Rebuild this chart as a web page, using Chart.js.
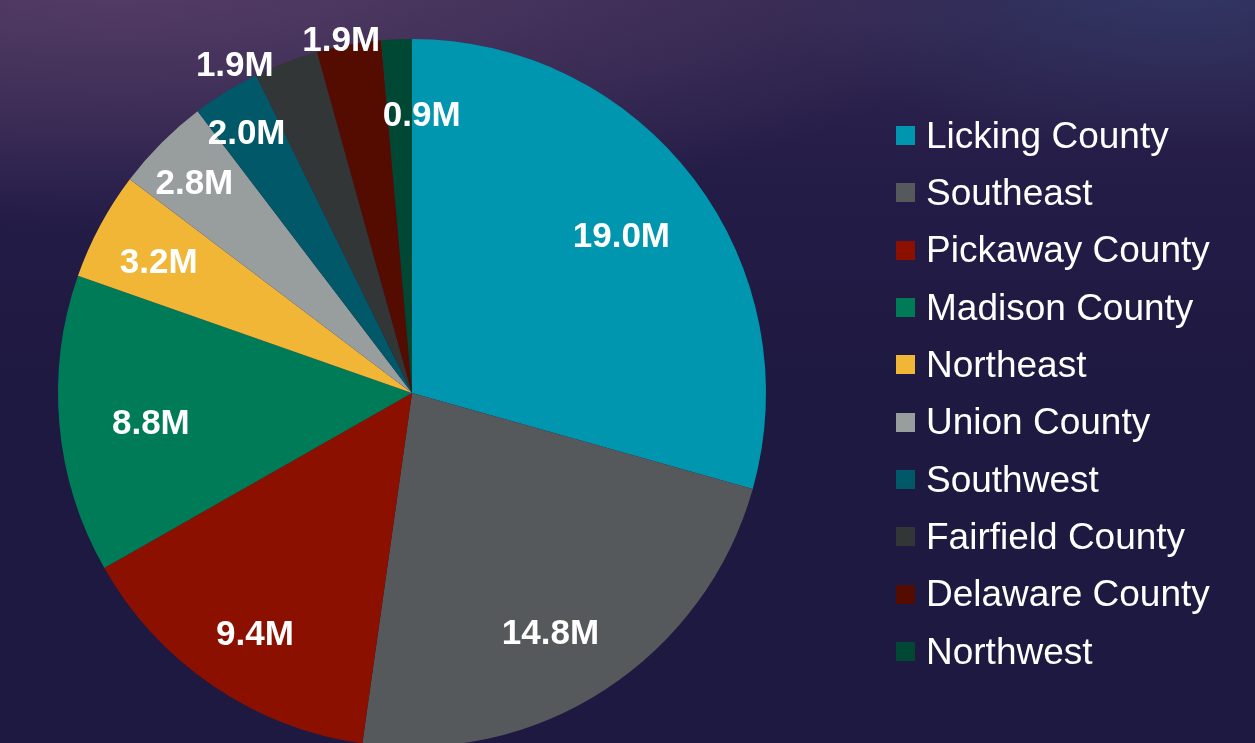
<!DOCTYPE html>
<html>
<head>
<meta charset="utf-8">
<title>Pie</title>
<script src="https://cdn.jsdelivr.net/npm/chart.js@4.4.1/dist/chart.umd.min.js"></script>
<style>
html, body { margin: 0; padding: 0; width: 1255px; height: 743px; overflow: hidden; }
body {
    position: relative;
    font-family: "Liberation Sans", Arial, sans-serif;
    background:
        radial-gradient(ellipse 900px 260px at 120px -30px, rgba(88, 63, 104, 0.95), rgba(88, 63, 104, 0) 100%),
        radial-gradient(ellipse 420px 170px at 1180px -20px, rgba(50, 56, 102, 0.9), rgba(50, 56, 102, 0) 100%),
        linear-gradient(180deg, #30264f 0px, #231c47 190px, #1e1940 420px, #1e1940 743px);
}
#wrap { position: absolute; left: 0; top: 0; width: 1255px; height: 790px; }
#legend { position: absolute; left: 896px; top: 107px; margin: 0; padding: 0; list-style: none; }
#legend li { height: 57.33px; display: flex; align-items: center; color: #fff; font-size: 37px; white-space: nowrap; }
#legend .box { width: 19px; height: 19px; margin-right: 11px; flex: none; }
</style>
</head>
<body>
<div id="wrap"><canvas id="pieChart" width="1255" height="790"></canvas></div>
<ul id="legend"></ul>
<script>
// 데이터
const regions = ["Licking County", "Southeast", "Pickaway County", "Madison County", "Northeast",
    "Union County", "Southwest", "Fairfield County", "Delaware County", "Northwest"];
const amounts = [19.0, 14.8, 9.4, 8.8, 3.2, 2.8, 2.0, 1.9, 1.9, 0.9]; // 단위: M
const sliceColors = ["#0096B0", "#55595B", "#8C1000", "#007B57", "#F2B637",
    "#989D9E", "#005868", "#323637", "#550C00", "#004834"];

// 라벨 위치 (반지름 비율, 각도 보정)
const labelPlacement = [
    [0.742, 0], [0.78, 3], [0.81, -1], [0.742, -1], [0.807, -0.7],
    [0.858, -0.7], [0.874, -0.6], [1.057, -7.4], [1.021, -1], [0.791, 4.5]
];

// 조각 위 값 라벨 그리기
const valueLabels = {
    id: 'valueLabels',
    afterDatasetsDraw(chart) {
        const ctx = chart.ctx;
        const meta = chart.getDatasetMeta(0);
        const fontSize = 35;
        ctx.save();
        ctx.font = `bold ${fontSize}px "Liberation Sans", Arial, sans-serif`;
        ctx.fillStyle = '#ffffff';
        ctx.textAlign = 'center';
        ctx.textBaseline = 'alphabetic';
        meta.data.forEach((arc, i) => {
            const p = arc.getProps(['x', 'y', 'startAngle', 'endAngle', 'outerRadius'], true);
            const [frac, shift] = labelPlacement[i];
            const mid = (p.startAngle + p.endAngle) / 2 + shift * Math.PI / 180;
            const r = p.outerRadius * frac;
            const px = p.x + Math.cos(mid) * r;
            const py = p.y + Math.sin(mid) * r;
            ctx.fillText(amounts[i].toFixed(1) + 'M', px, py + fontSize * 0.358);
        });
        ctx.restore();
    }
};

const chart = new Chart(document.getElementById('pieChart').getContext('2d'), {
    type: 'pie',
    data: {
        labels: regions,
        datasets: [{
            data: amounts,
            backgroundColor: sliceColors,
            borderWidth: 0,
            hoverOffset: 0
        }]
    },
    options: {
        responsive: false,
        animation: false,
        layout: { padding: { left: 58, right: 489, top: 39, bottom: 43 } },
        plugins: {
            legend: { display: false },
            tooltip: { enabled: false }
        }
    },
    plugins: [valueLabels]
});

// 범례 만들기
const legendList = document.getElementById('legend');
chart.data.labels.forEach((name, i) => {
    const li = document.createElement('li');
    const box = document.createElement('span');
    box.className = 'box';
    box.style.background = chart.data.datasets[0].backgroundColor[i];
    li.appendChild(box);
    li.appendChild(document.createTextNode(name));
    legendList.appendChild(li);
});
</script>
</body>
</html>
